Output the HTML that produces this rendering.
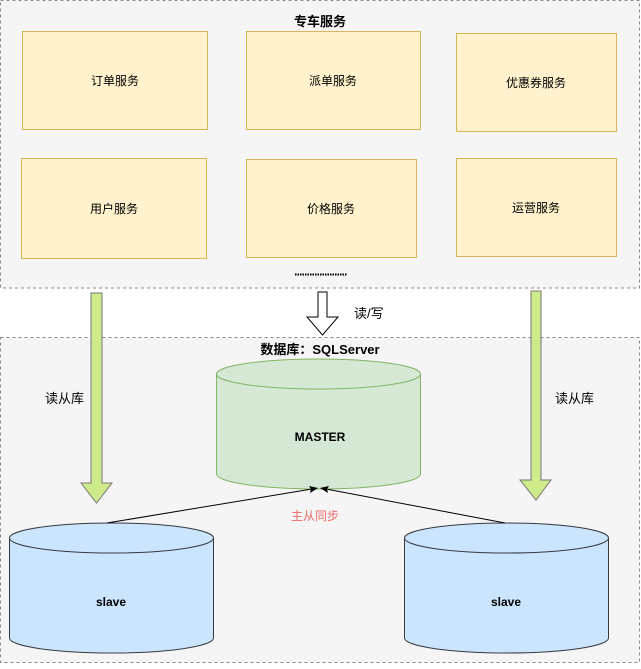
<!DOCTYPE html>
<html><head><meta charset="utf-8"><style>
body{margin:0;background:#fff;}
svg text{font-family:"Liberation Sans","Noto Sans CJK SC",sans-serif;}
</style></head><body>
<svg width="641" height="664" xmlns="http://www.w3.org/2000/svg">
<rect x="0.5" y="0.5" width="639" height="287.5" fill="#f5f5f5" stroke="#888" stroke-dasharray="3,3"/>
<rect x="0.5" y="337.5" width="639" height="325" fill="#f5f5f5" stroke="#888" stroke-dasharray="3,3"/>
<text x="320" y="26" font-size="13" font-weight="bold" text-anchor="middle">专车服务</text>
<g fill="#fff2cc" stroke="#d6b656">
<rect x="22.5" y="31.5" width="185" height="98"/>
<rect x="246.5" y="31.5" width="174" height="98"/>
<rect x="456.5" y="33.5" width="160" height="98"/>
<rect x="21.5" y="158.5" width="185" height="100"/>
<rect x="246.5" y="159.5" width="170" height="98"/>
<rect x="456.5" y="158.5" width="160" height="98"/>
</g>
<g font-size="12" text-anchor="middle">
<text x="115" y="85">订单服务</text>
<text x="333" y="85">派单服务</text>
<text x="536" y="87">优惠券服务</text>
<text x="114" y="213">用户服务</text>
<text x="331" y="213">价格服务</text>
<text x="536" y="212">运营服务</text>
</g>
<line x1="295" y1="274.5" x2="347" y2="274.5" stroke="#000" stroke-width="2" stroke-dasharray="1.5,1"/>
<polygon points="91,293 102,293 102,483 112,483 96.5,503 81,483 91,483" fill="#cdeb8b" stroke="#777"/>
<polygon points="531,291 541,291 541,480 551,480 536,500 520,480 531,480" fill="#cdeb8b" stroke="#777"/>
<polygon points="318,292 327,292 327,317 338,317 322.5,335 307,317 318,317" fill="#fff" stroke="#000"/>
<text x="354" y="318" font-size="13">读/写</text>
<text x="320" y="354" font-size="13" font-weight="bold" text-anchor="middle">数据库：SQLServer</text>
<text x="45" y="403" font-size="13">读从库</text>
<text x="555" y="403" font-size="13">读从库</text>
<path d="M216.5,374 L216.5,474 A102,15 0 0 0 420.5,474 L420.5,374 A102,15 0 0 0 216.5,374 A102,15 0 0 0 420.5,374" fill="#d5e8d4" stroke="#82b366"/>
<text x="320" y="441" font-size="12" font-weight="bold" text-anchor="middle">MASTER</text>
<path d="M9.5,538 L9.5,638 A102,15 0 0 0 213.5,638 L213.5,538 A102,15 0 0 0 9.5,538 A102,15 0 0 0 213.5,538" fill="#cce5ff" stroke="#36393d"/>
<path d="M404.5,538 L404.5,638 A102,15 0 0 0 608.5,638 L608.5,538 A102,15 0 0 0 404.5,538 A102,15 0 0 0 608.5,538" fill="#cce5ff" stroke="#36393d"/>
<text x="111" y="606" font-size="12" font-weight="bold" text-anchor="middle">slave</text>
<text x="506" y="606" font-size="12" font-weight="bold" text-anchor="middle">slave</text>
<line x1="107" y1="523" x2="312" y2="489" stroke="#000"/>
<polygon points="318,488 309,486 311,489 310,493" fill="#000"/>
<line x1="505" y1="523" x2="326" y2="489" stroke="#000"/>
<polygon points="320,488 329,486 327,489 328,493" fill="#000"/>
<text x="315" y="520" font-size="12" fill="#ea6b66" text-anchor="middle">主从同步</text>
</svg>
</body></html>
